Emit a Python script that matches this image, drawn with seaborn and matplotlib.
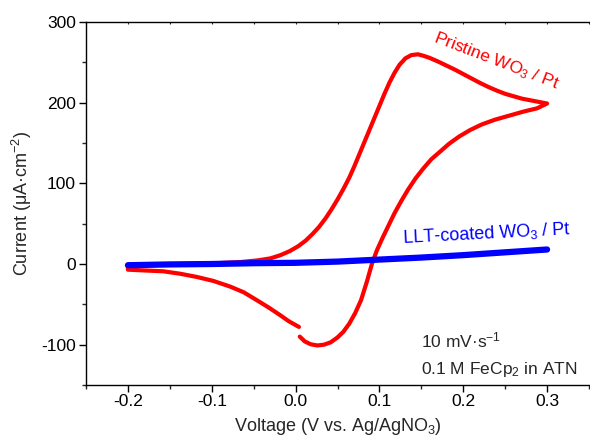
import numpy as np
import pandas as pd
import matplotlib
matplotlib.use("Agg")
import matplotlib.pyplot as plt
import seaborn as sns
from matplotlib.ticker import MultipleLocator

# pristine WO3 / Pt cyclic voltammogram (V, uA/cm2), traced in scan order
pristine_v = [0.005, 0.011, 0.018, 0.026, 0.034, 0.042, 0.05, 0.057, 0.064, 0.071, 0.078,
              0.085, 0.091, 0.097, 0.104, 0.111, 0.118, 0.126, 0.134, 0.143, 0.152, 0.162,
              0.172, 0.183, 0.195, 0.208, 0.222, 0.238, 0.255, 0.272, 0.288, 0.3,
              0.29, 0.28, 0.27, 0.26, 0.25, 0.24, 0.23, 0.22, 0.21, 0.2, 0.19, 0.18, 0.17,
              0.16, 0.153, 0.146, 0.138, 0.131, 0.124, 0.118, 0.112, 0.106, 0.1, 0.094,
              0.088, 0.082, 0.076, 0.07, 0.064, 0.057, 0.05, 0.043, 0.036, 0.028, 0.02,
              0.012, 0.003, -0.007, -0.018, -0.03, -0.045, -0.065, -0.09, -0.12, -0.16, -0.2,
              -0.2, -0.18, -0.158, -0.138, -0.118, -0.098, -0.078, -0.062, -0.046, -0.032,
              -0.019, -0.008, 0.004]
pristine_i = [-90, -96, -99.5, -101, -100, -97, -91, -84, -74, -61, -45,
              -22, 0, 17, 33, 48, 63, 78, 92, 106, 118, 130,
              139, 149, 158, 166, 173, 179, 184, 189, 193, 199,
              201, 203, 205, 208, 211, 215, 219.5, 224.5, 230, 235.5, 241, 246, 251,
              255.5, 258, 260, 259, 255, 247, 237, 225, 211, 196, 181,
              166, 151, 136, 121, 107, 93, 80, 68, 57, 46, 37,
              29, 22, 16, 11, 7, 4.5, 2.5, 1.2, 0.3, -0.4, -1,
              -7, -8, -9, -12, -16, -21, -28, -35, -45, -54,
              -63, -71, -78]

# LLT-coated WO3 / Pt
coated_v = [-0.2, -0.15, -0.1, -0.05, 0.0, 0.05, 0.1, 0.15, 0.2, 0.25, 0.3]
coated_i = [-1.5, -0.5, 0, 1, 1.5, 3, 5.5, 8, 11, 14.5, 18]

x_ticks = [-0.2, -0.1, 0.0, 0.1, 0.2, 0.3]
y_ticks = [-100, 0, 100, 200, 300]

sns.set_theme(style="ticks")
plt.rcParams["font.family"] = ["Liberation Sans", "DejaVu Sans"]
plt.rcParams["mathtext.fontset"] = "custom"
plt.rcParams["mathtext.rm"] = "Liberation Sans"
plt.rcParams["mathtext.it"] = "Liberation Sans:italic"
plt.rcParams["axes.unicode_minus"] = False

df_p = pd.DataFrame({"v": pristine_v, "i": pristine_i})
df_c = pd.DataFrame({"v": coated_v, "i": coated_i})

fig = plt.figure(figsize=(5.9, 4.47), dpi=100)
ax = fig.add_axes([0.1458, 0.1387, 0.8525, 0.812])

sns.lineplot(data=df_p, x="v", y="i", sort=False, estimator=None, color="#ff0000",
             linewidth=3.0, ax=ax, solid_capstyle="round", solid_joinstyle="round")
sns.lineplot(data=df_c, x="v", y="i", sort=False, estimator=None, color="#0000ff",
             linewidth=4.5, ax=ax, solid_capstyle="round")

ax.set_xlim(-0.25, 0.35)
ax.set_ylim(-150, 300)
ax.set_xticks(x_ticks)
ax.set_xticklabels([f"{t:.1f}" for t in x_ticks])
ax.set_yticks(y_ticks)
ax.xaxis.set_minor_locator(MultipleLocator(0.05))
ax.yaxis.set_minor_locator(MultipleLocator(50))

for s in ["left", "bottom", "top"]:
    ax.spines[s].set_linewidth(1.0)
    ax.spines[s].set_color("black")
ax.spines["right"].set_visible(False)
ax.tick_params(which="major", direction="out", length=4.7, width=1.0, labelsize=12.5, colors="black")
ax.tick_params(which="minor", direction="out", length=2.9, width=1.0)
ax.tick_params(axis="y", pad=2.5)
ax.tick_params(axis="x", pad=2)

secax = ax.secondary_xaxis("top")
secax.set_xticks(np.arange(-0.25, 0.36, 0.05))
secax.set_xticklabels([])
secax.tick_params(direction="in", length=1.5, width=0.8)
secax.spines["top"].set_visible(False)

ax.set_xlabel("Voltage (V vs. Ag/AgNO$_3$)", fontsize=13, labelpad=5)
ax.set_ylabel("Current (μA·cm$^{-2}$)", fontsize=13, labelpad=5)

ax.text(0.164, 276, "Pristine WO$_3$ / Pt", color="#ff0000", fontsize=12.5,
        rotation=-21, rotation_mode="anchor", ha="left", va="baseline")
ax.text(0.128, 26, "LLT-coated WO$_3$ / Pt", color="#0000ff", fontsize=13,
        rotation=3, rotation_mode="anchor", ha="left", va="baseline")
ax.text(0.150, -103, "10 mV·s$^{-1}$", fontsize=12.5, ha="left", va="baseline")
ax.text(0.150, -136, "0.1 M FeCp$_2$ in ATN", fontsize=12.5, ha="left", va="baseline")

if ax.get_legend() is not None:
    ax.get_legend().remove()

fig.savefig("out.png", dpi=100)
